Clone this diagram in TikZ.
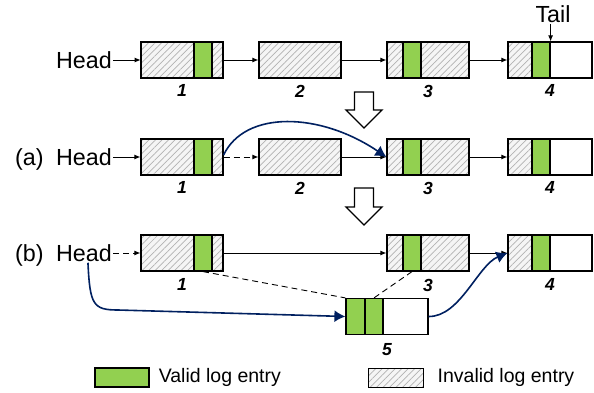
\documentclass[tikz,border=0pt]{standalone}
\usepackage{fontspec}
\setmainfont{Liberation Sans}
\usetikzlibrary{positioning,calc,arrows.meta,patterns.meta}

\definecolor{validgreen}{HTML}{92D050}
\definecolor{linkblue}{HTML}{002060}

\tikzset{
    >={Latex[length=6pt,width=5pt]},
    % one log segment, hatched = invalid entries
    entry/.style={
        rectangle,
        draw=black, line width=1.2pt,
        minimum height=36pt,
        inner sep=0pt,
        preaction={fill=gray!8},
        pattern={Lines[angle=45,distance=4.6pt,line width=0.7pt]},
        pattern color=gray!60
    },
    valid/.style={
        rectangle,
        draw=black, line width=1.2pt,
        fill=validgreen,
        minimum height=36pt,
        inner sep=0pt
    },
    blank/.style={
        rectangle,
        draw=black, line width=1.2pt,
        fill=white,
        minimum height=36pt,
        inner sep=0pt
    },
    lbl/.style={inner sep=1pt, font={\fontsize{23.3pt}{27pt}\selectfont}},
    idx/.style={inner sep=0pt, font={\fontsize{17.5pt}{17.5pt}\selectfont\bfseries\itshape}},
    keytext/.style={inner sep=0pt, font={\fontsize{19.5pt}{22pt}\selectfont}},
    link/.style={draw, line width=0.9pt, ->},
    dashlink/.style={draw, line width=0.9pt, dash pattern=on 6pt off 4pt},
    bluelink/.style={draw=linkblue, line width=1.6pt,
        -{Latex[length=11pt,width=12pt]}},
    blockarrow/.style={draw=black, line width=1.3pt, fill=white},
}

\begin{document}
\begin{tikzpicture}[x=1pt, y=-1pt]
\useasboundingbox (0,0) rectangle (594,393);

% first row: the log before cleaning
\node[lbl, anchor=east] (h1) at (113,60) {Head};
\node[entry, minimum width=82pt] (r1e1) at (182,60) {};
\node[valid, minimum width=18pt] (r1g1) at (203,60) {};
\node[entry, minimum width=82pt] (r1e2) at (300,60) {};
\node[entry, minimum width=82pt] (r1e3) at (428,60) {};
\node[valid, minimum width=18pt] (r1g3) at (412,60) {};
\node[entry, minimum width=84pt] (r1e4) at (550,60) {};
\node[blank, minimum width=42pt] (r1w4) at (571,60) {};
\node[valid, minimum width=18pt] (r1g4) at (541,60) {};
\node[idx, below=6pt of r1e1] {1};
\node[idx, below=6pt of r1e2] {2};
\node[idx, below=6pt of r1e3] {3};
\node[idx, below=6pt of r1e4] {4};
\node[lbl] (tail) at (553,14) {Tail};
\draw[link] (h1) -- (r1e1);
\draw[link] (r1e1) -- (r1e2);
\draw[link] (r1e2) -- (r1e3);
\draw[link] (r1e3) -- (r1e4);
\draw[link] (tail.south -| r1g4.north east) -- (r1g4.north east);

\draw[blockarrow] (364,92) -- ++(9.5,0) -- ++(0,18) -- ++(8.5,0) -- ++(-18,18)
    -- ++(-18,-18) -- ++(8.5,0) -- ++(0,-18) -- cycle;

% (a) segment 2 skipped
\node[lbl, anchor=east] (h2) at (113,157) {Head};
\node[lbl, base left=10pt of h2] {(a)};
\node[entry, minimum width=82pt] (r2e1) at (182,157) {};
\node[valid, minimum width=18pt] (r2g1) at (203,157) {};
\node[entry, minimum width=82pt] (r2e2) at (300,157) {};
\node[entry, minimum width=82pt] (r2e3) at (428,157) {};
\node[valid, minimum width=18pt] (r2g3) at (412,157) {};
\node[entry, minimum width=84pt] (r2e4) at (550,157) {};
\node[blank, minimum width=42pt] (r2w4) at (571,157) {};
\node[valid, minimum width=18pt] (r2g4) at (541,157) {};
\node[idx, below=6pt of r2e1] {1};
\node[idx, below=6pt of r2e2] {2};
\node[idx, below=6pt of r2e3] {3};
\node[idx, below=6pt of r2e4] {4};
\draw[link] (h2) -- (r2e1);
\draw[link, dash pattern=on 6pt off 4pt] (r2e1) -- (r2e2);
\draw[link] (r2e2) -- (r2e3);
\draw[link] (r2e3) -- (r2e4);
\draw[bluelink] ([yshift=2pt]r2e1.east) .. controls (245,110) and (320,112) .. (r2e3.west);

\draw[blockarrow] (364,188) -- ++(9.5,0) -- ++(0,19) -- ++(8.5,0) -- ++(-18,18)
    -- ++(-18,-18) -- ++(8.5,0) -- ++(0,-19) -- cycle;

% (b) valid entries copied into segment 5
\node[lbl, anchor=east] (h3) at (113,253) {Head};
\node[lbl, base left=10pt of h3] {(b)};
\node[entry, minimum width=82pt] (r3e1) at (182,253) {};
\node[valid, minimum width=18pt] (r3g1) at (203,253) {};
\node[entry, minimum width=82pt] (r3e3) at (428,253) {};
\node[valid, minimum width=18pt] (r3g3) at (412,253) {};
\node[entry, minimum width=84pt] (r3e4) at (550,253) {};
\node[blank, minimum width=42pt] (r3w4) at (571,253) {};
\node[valid, minimum width=18pt] (r3g4) at (541,253) {};
\node[blank, minimum width=82pt] (r3e5) at (387,316.5) {};
\node[valid, minimum width=19pt] (r3g5a) at (355.5,316.5) {};
\node[valid, minimum width=18pt] (r3g5b) at (374,316.5) {};
\node[idx, below=7pt of r3e1] {1};
\node[idx, below=7pt of r3e3] {3};
\node[idx, below=7pt of r3e4] {4};
\node[idx, below=8pt of r3e5] {5};
\draw[link, dash pattern=on 6pt off 4pt] (h3) -- (r3e1);
\draw[link] (r3e1) -- (r3e3);
\draw[link] (r3e3) -- (r3e4);
\draw[dashlink] (r3g1.south) -- (r3g5a.north west);
\draw[dashlink] (r3g3.south) -- (r3g5b.north);
\draw[bluelink] ([xshift=4pt]h3.south) .. controls +(2,42) and +(-25,0) .. (118,310)
    -- (r3e5.west);
\draw[bluelink] (r3e5.east) .. controls (460,317) and (478,265) .. (r3e4.west);

% legend
\node[valid, minimum width=54pt, minimum height=19pt] (keyvalid) at (122,377.5) {};
\node[keytext, right=9pt of keyvalid] {Valid log entry};
\node[entry, line width=1pt, minimum width=55pt, minimum height=19pt] (keyinvalid) at (395.5,377.5) {};
\node[keytext, right=14pt of keyinvalid] {Invalid log entry};
\end{tikzpicture}
\end{document}
